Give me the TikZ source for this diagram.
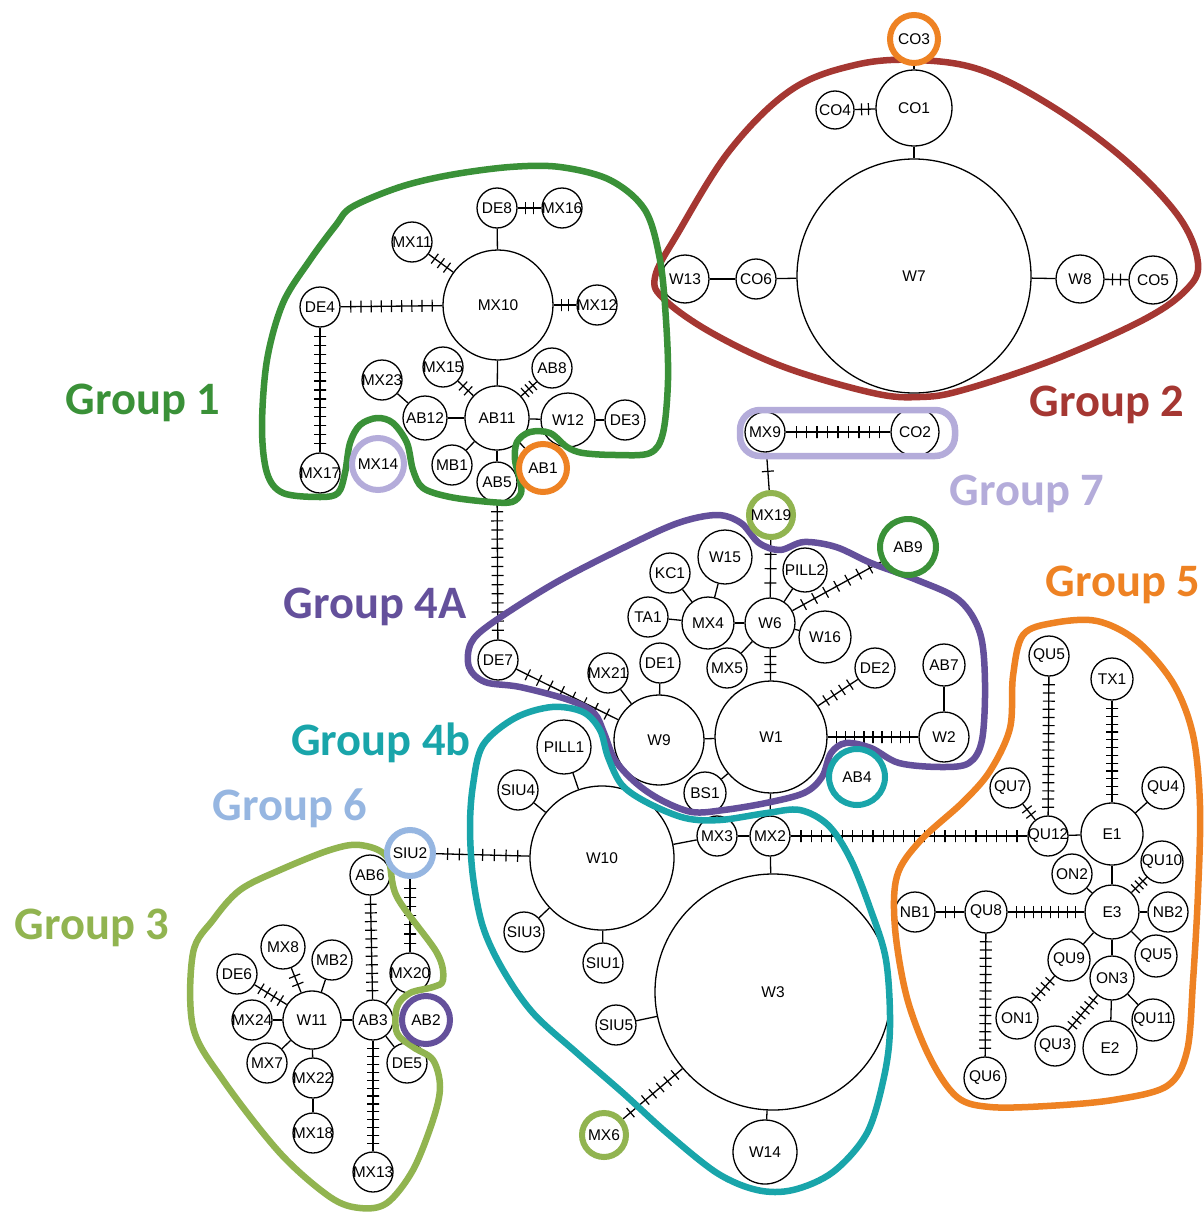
\documentclass[tikz,border=0pt]{standalone}
\usepackage{fontspec}
\newfontfamily\hapf{Liberation Sans}
\newfontfamily\grpf{Carlito}
\definecolor{gone}{RGB}{58,145,56}
\definecolor{gtwo}{RGB}{165,55,50}
\definecolor{gseven}{RGB}{180,172,218}
\definecolor{gfourA}{RGB}{100,80,155}
\definecolor{gfourb}{RGB}{25,165,170}
\definecolor{gfive}{RGB}{238,130,35}
\definecolor{gsix}{RGB}{150,182,225}
\definecolor{gthree}{RGB}{145,180,80}
\pgfdeclarelayer{bg}
\pgfdeclarelayer{top}
\pgfsetlayers{bg,main,top}
\tikzset{
 hap/.style={circle, draw=black, line width=1.3pt, fill=white, inner sep=0pt, font=\hapf\fontsize{15.5}{17}\selectfont},
 ring/.style={circle, draw=#1, line width=6pt, fill=white, inner sep=0pt, font=\hapf\fontsize{15.5}{17}\selectfont},
 edge/.style={line width=1.3pt},
 tk/.style={draw, line width=1.2pt, rectangle, minimum width=0pt, minimum height=12pt, inner sep=0pt, outer sep=0pt, sloped},
 outl/.style={line width=6.5pt, draw=#1, line join=round},
 grp/.style={font=\grpf\bfseries\fontsize{46.5}{55}\selectfont, text=#1, inner sep=0pt},
}
\newcommand\hn[5]{\node[hap, minimum size=#4*2pt] (#1) at (#2,#3) {\makebox[0pt]{#5}};}
\newcommand\rn[6]{\node[ring=#6, minimum size=#4*2pt] (#1) at (#2,#3) {\makebox[0pt]{#5}};}
\newcommand\lk[3]{%
  \draw[edge] (#1) -- (#2);
  \ifnum#3>0
    \foreach \k in {1,...,#3}{%
      \pgfmathsetmacro\tkpos{\k/(#3+1)}%
      \path (#1) -- (#2) node[tk, pos=\tkpos]{};
    }%
  \fi
}
\begin{document}
\begin{tikzpicture}[x=1pt,y=-1pt]
\useasboundingbox (0,0) rectangle (1203,1215);
% ---------- haplotype nodes ----------
% Group 2
\hn{CO1}{914}{108}{38}{CO1}
\hn{CO4}{835}{110}{19}{CO4}
\hn{W7}{914}{276}{117}{W7}
\hn{W13}{685}{279}{24}{W13}
\hn{CO6}{756}{279}{20}{CO6}
\hn{W8}{1080}{279}{24}{W8}
\hn{CO5}{1153}{280}{24}{CO5}
% Group 1
\hn{DE8}{497}{208}{20}{DE8}
\hn{MX16}{562}{208}{20}{MX16}
\hn{MX11}{412}{242}{20}{MX11}
\hn{MX10}{498}{305}{55}{MX10}
\hn{DE4}{320}{307}{20}{DE4}
\hn{MX12}{597}{305}{20}{MX12}
\hn{MX15}{443}{367}{20}{MX15}
\hn{AB8}{552}{368}{20}{AB8}
\hn{MX23}{382}{380}{20}{MX23}
\hn{AB12}{425}{418}{22}{AB12}
\hn{AB11}{497}{418}{32}{AB11}
\hn{W12}{568}{420}{27}{W12}
\hn{DE3}{625}{420}{20}{DE3}
\hn{MX17}{320}{473}{20}{MX17}
\hn{MB1}{452}{465}{20}{MB1}
\hn{AB5}{497}{482}{20}{AB5}
% Group 7
\hn{MX9}{765}{432}{20}{MX9}
\hn{CO2}{915}{432}{24}{CO2}
% Group 4A
\hn{W15}{725}{557}{27}{W15}
\hn{KC1}{670}{573}{20}{KC1}
\hn{PILL2}{805}{570}{22}{PILL2}
\hn{TA1}{648}{617}{20}{TA1}
\hn{MX4}{708}{623}{26}{MX4}
\hn{W6}{770}{623}{25}{W6}
\hn{W16}{825}{637}{26}{W16}
\hn{DE1}{660}{663}{20}{DE1}
\hn{MX5}{727}{668}{20}{MX5}
\hn{DE2}{875}{668}{20}{DE2}
\hn{AB7}{944}{665}{21}{AB7}
\hn{DE7}{498}{660}{20}{DE7}
\hn{MX21}{608}{673}{20}{MX21}
\hn{W9}{659}{740}{45}{W9}
\hn{W1}{771}{737}{56}{W1}
\hn{W2}{944}{737}{25}{W2}
\hn{BS1}{705}{793}{21}{BS1}
% Group 4b
\hn{PILL1}{564}{747}{27}{PILL1}
\hn{W10}{602}{858}{72}{W10}
\hn{SIU4}{518}{790}{20}{SIU4}
\hn{SIU3}{524}{932}{20}{SIU3}
\hn{SIU1}{603}{963}{20}{SIU1}
\hn{MX3}{717}{836}{20}{MX3}
\hn{MX2}{770}{836}{20}{MX2}
\hn{W3}{773}{992}{118}{W3}
\hn{SIU5}{616}{1025}{20}{SIU5}
\hn{W14}{765}{1152}{32}{W14}
% Group 3
\hn{AB6}{370}{875}{20}{AB6}
\hn{MX8}{283}{947}{22}{MX8}
\hn{MB2}{332}{960}{20}{MB2}
\hn{DE6}{237}{974}{20}{DE6}
\hn{MX20}{410}{973}{20}{MX20}
\hn{MX24}{252}{1020}{20}{MX24}
\hn{W11}{312}{1020}{29}{W11}
\hn{AB3}{373}{1020}{20}{AB3}
\hn{MX7}{267}{1063}{20}{MX7}
\hn{DE5}{407}{1063}{20}{DE5}
\hn{MX22}{313}{1078}{20}{MX22}
\hn{MX18}{313}{1133}{20}{MX18}
\hn{MX13}{373}{1172}{20}{MX13}
% Group 5
\hn{QU5a}{1049}{656}{20}{QU5}
\hn{TX1}{1112}{679}{21}{TX1}
\hn{QU7}{1010}{788}{20}{QU7}
\hn{QU4}{1163}{788}{21}{QU4}
\hn{QU12}{1048}{836}{20}{QU12}
\hn{E1}{1112}{834}{31}{E1}
\hn{QU10}{1162}{862}{21}{QU10}
\hn{ON2}{1072}{874}{20}{ON2}
\hn{NB1}{915}{912}{20}{NB1}
\hn{QU8}{986}{912}{21}{QU8}
\hn{E3}{1112}{912}{27}{E3}
\hn{NB2}{1168}{912}{20}{NB2}
\hn{QU9}{1069}{960}{21}{QU9}
\hn{QU5b}{1156}{956}{21}{QU5}
\hn{ON3}{1112}{978}{22}{ON3}
\hn{ON1}{1017}{1018}{21}{ON1}
\hn{QU11}{1153}{1020}{21}{QU11}
\hn{QU3}{1055}{1046}{20}{QU3}
\hn{E2}{1110}{1048}{27}{E2}
\hn{QU6}{985}{1078}{21}{QU6}
% ---------- outlines and ring nodes ----------
\begin{pgfonlayer}{top}
\draw[outl=gtwo] plot[smooth cycle, tension=0.6] coordinates {
 (655,277) (678,233) (730,150) (791,90) (855,65) (916,60) (981,70) (1053,107)
 (1125,160) (1179,217) (1198,263) (1186,290) (1143,320) (1053,360) (963,390)
 (920,397) (873,393) (784,367) (712,333) (665,300)};
\draw[outl=gseven, rounded corners=20pt] (740,410) rectangle (955,456);
\draw[outl=gone] plot[smooth cycle, tension=0.55] coordinates {
 (352,207) (400,187) (450,175) (510,167) (560,167) (610,180) (645,210) (660,260)
 (666,320) (668,380) (663,433) (650,453) (616,455) (583,453) (567,447) (550,433)
 (530,432) (517,442) (515,460) (520,480) (521,493) (512,502) (490,502) (450,497)
 (423,488) (413,470) (407,443) (393,423) (377,418) (360,425) (350,443) (345,473)
 (338,493) (320,497) (283,493) (267,473) (262,427) (267,360) (283,303) (310,260)
 (336,225)};
\draw[outl=gfourA] plot[smooth cycle, tension=0.55] coordinates {
 (471,643) (492,623) (555,583) (625,547) (678,523) (717,515) (741,523) (759,543)
 (780,550) (804,542) (836,547) (871,563) (917,580) (959,600) (980,633) (985,683)
 (982,740) (969,763) (941,767) (899,763) (871,748) (846,743) (831,753) (822,777)
 (804,793) (766,803) (724,810) (692,812) (661,800) (636,783) (615,760) (604,733)
 (594,713) (569,700) (520,687) (485,682) (469,667)};
\draw[outl=gfourb] plot[smooth cycle, tension=0.55] coordinates {
 (483,745) (515,718) (552,707) (583,712) (600,730) (608,757) (622,785) (648,803)
 (685,818) (720,820) (767,813) (800,810) (828,825) (850,858) (870,908) (886,960)
 (890,1027) (884,1077) (867,1133) (833,1172) (793,1190) (757,1190) (717,1173)
 (667,1133) (623,1093) (577,1053) (533,1013) (503,970) (483,927) (473,877)
 (470,827) (473,785)};
\draw[outl=gfive] plot[smooth cycle, tension=0.55] coordinates {
 (1023,635) (1053,623) (1097,621) (1137,641) (1173,683) (1193,735) (1200,806)
 (1198,893) (1193,981) (1187,1051) (1167,1086) (1113,1100) (1047,1106) (990,1107)
 (957,1097) (930,1058) (907,998) (895,928) (897,876) (920,841) (963,802)
 (990,771) (1010,728) (1013,676)};
\draw[outl=gthree] plot[smooth cycle, tension=0.55] coordinates {
 (360,845) (387,857) (397,897) (437,953) (443,980) (433,987) (410,993) (397,1007)
 (397,1033) (413,1047) (433,1060) (440,1087) (433,1120) (413,1170) (387,1203)
 (360,1208) (330,1197) (280,1153) (223,1080) (193,1027) (193,953) (213,920)
 (240,890) (280,870) (330,850)};
% ring nodes
\rn{CO3}{914}{39}{24}{CO3}{gfive}
\rn{MX14}{378}{464}{26}{MX14}{gseven}
\rn{AB1}{543}{468}{24}{AB1}{gfive}
\rn{MX19}{771}{515}{22}{MX19}{gthree}
\rn{AB9}{908}{547}{28}{AB9}{gone}
\rn{AB4}{857}{777}{28}{AB4}{gfourb}
\rn{SIU2}{410}{853}{23}{SIU2}{gsix}
\rn{AB2}{426}{1020}{24}{AB2}{gfourA}
\rn{MX6}{604}{1135}{22}{MX6}{gthree}
% group labels
\node[grp=gone] (L1) at (143,403) {Group 1};
\node[grp=gtwo] (L2) at (1107,405) {Group 2};
\node[grp=gseven] (L7) at (1027,494) {Group 7};
\node[grp=gfive] (L5) at (1123,585) {Group 5};
\node[grp=gfourA] (L4A) at (375,607) {Group 4A};
\node[grp=gfourb] (L4b) at (381,743) {Group 4b};
\node[grp=gsix] (L6) at (290,808) {Group 6};
\node[grp=gthree] (L3) at (92,928) {Group 3};
\end{pgfonlayer}
% ---------- connectors ----------
\begin{pgfonlayer}{bg}
\fill[white] (0,0) rectangle (1203,1215);
% Group 2
\lk{CO3}{CO1}{0}
\lk{CO4}{CO1}{2}
\lk{CO1}{W7}{0}
\lk{W13}{CO6}{0}
\lk{CO6}{W7}{0}
\lk{W7}{W8}{0}
\lk{W8}{CO5}{2}
% Group 1
\lk{DE8}{MX10}{0}
\lk{DE8}{MX16}{2}
\lk{MX11}{MX10}{3}
\lk{DE4}{MX10}{9}
\lk{MX10}{MX12}{2}
\lk{DE4}{MX17}{13}
\lk{MX10}{AB11}{0}
\lk{MX15}{AB11}{2}
\lk{AB8}{AB11}{3}
\lk{MX23}{AB12}{0}
\lk{AB12}{AB11}{0}
\lk{AB11}{W12}{0}
\lk{W12}{DE3}{0}
\lk{AB11}{MB1}{0}
\lk{AB11}{AB5}{0}
\lk{AB11}{AB1}{0}
\lk{AB5}{DE7}{14}
% Group 7
\lk{MX9}{CO2}{9}
\lk{MX9}{MX19}{1}
\lk{MX19}{W6}{3}
% Group 4A
\lk{W6}{PILL2}{0}
\lk{W6}{AB9}{7}
\lk{W6}{W16}{0}
\lk{W6}{MX4}{0}
\lk{W6}{MX5}{0}
\lk{W6}{W1}{3}
\lk{MX4}{W15}{0}
\lk{MX4}{KC1}{0}
\lk{MX4}{TA1}{0}
\lk{W9}{DE1}{0}
\lk{W9}{MX21}{0}
\lk{W9}{DE7}{8}
\lk{W9}{W1}{0}
\lk{W1}{DE2}{4}
\lk{W1}{W2}{9}
\lk{W2}{AB7}{0}
\lk{W1}{BS1}{0}
\lk{W1}{MX2}{0}
% Group 4b
\lk{W10}{PILL1}{0}
\lk{W10}{SIU4}{0}
\lk{W10}{SIU3}{0}
\lk{W10}{SIU1}{0}
\lk{W10}{MX3}{0}
\lk{MX3}{MX2}{0}
\lk{MX2}{W3}{0}
\lk{MX2}{QU12}{22}
\lk{SIU2}{W10}{7}
\lk{W3}{SIU5}{0}
\lk{W3}{MX6}{7}
\lk{W3}{W14}{0}
% Group 3
\lk{SIU2}{MX20}{7}
\lk{AB6}{AB3}{11}
\lk{AB3}{MX13}{13}
\lk{AB3}{W11}{0}
\lk{AB3}{MX20}{0}
\lk{AB3}{DE5}{0}
\lk{W11}{MX8}{2}
\lk{W11}{MB2}{0}
\lk{W11}{DE6}{4}
\lk{W11}{MX24}{0}
\lk{W11}{MX7}{0}
\lk{W11}{MX22}{0}
\lk{MX22}{MX18}{0}
% Group 5
\lk{QU5a}{QU12}{16}
\lk{TX1}{E1}{12}
\lk{QU7}{QU12}{2}
\lk{QU12}{E1}{0}
\lk{E1}{QU4}{0}
\lk{E1}{E3}{0}
\lk{QU10}{E3}{3}
\lk{ON2}{E3}{0}
\lk{NB1}{QU8}{2}
\lk{QU8}{E3}{8}
\lk{E3}{NB2}{0}
\lk{QU8}{QU6}{14}
\lk{E3}{QU9}{0}
\lk{E3}{ON3}{0}
\lk{E3}{QU5b}{0}
\lk{QU9}{ON1}{4}
\lk{ON3}{QU3}{6}
\lk{ON3}{E2}{0}
\lk{ON3}{QU11}{0}
\end{pgfonlayer}
\end{tikzpicture}
\end{document}
